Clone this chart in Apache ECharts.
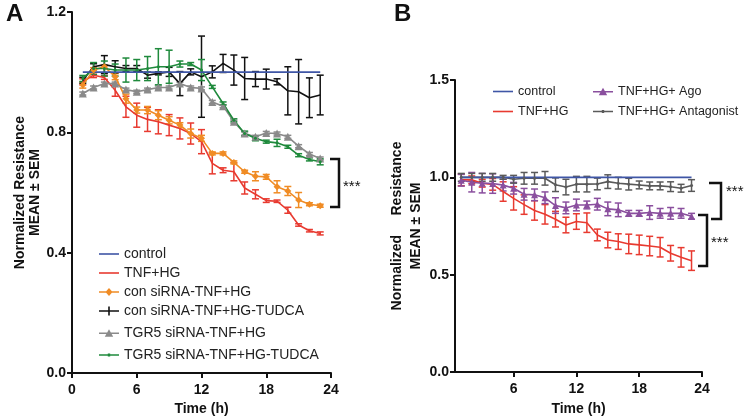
<!DOCTYPE html>
<html>
<head>
<meta charset="utf-8">
<script src="https://cdn.jsdelivr.net/npm/echarts@6/dist/echarts.min.js"></script>
<style>html,body{margin:0;padding:0;background:#fff}#c{width:750px;height:416px}</style>
</head>
<body>
<div id="c"></div>
<script>
// ---------- data ----------
var timeA = [1,2,3,4,5,6,7,8,9,10,11,12,13,14,15,16,17,18,19,20,21,22,23];
var controlA = [1,1,1,1,1,1,1,1,1,1,1,1,1,1,1,1,1,1,1,1,1,1,1];
var tnfA = [0.968,0.99,0.982,0.94,0.885,0.857,0.843,0.835,0.824,0.813,0.796,0.769,0.697,0.674,0.669,0.615,0.594,0.573,0.571,0.541,0.492,0.473,0.464];
var tnfAErr = [0.01,0.008,0.006,0.02,0.035,0.04,0.04,0.04,0.035,0.035,0.035,0.04,0.035,0.008,0.03,0.02,0.015,0.006,0.004,0.01,0.004,0.004,0.005];
var conA = [0.957,1.007,1.018,0.985,0.912,0.874,0.874,0.857,0.84,0.824,0.796,0.78,0.73,0.73,0.70,0.669,0.654,0.652,0.619,0.605,0.575,0.561,0.556];
var conAErr = [0.01,0.008,0.005,0.01,0.015,0.01,0.012,0.015,0.012,0.008,0.015,0.01,0.005,0.005,0.005,0.005,0.015,0.008,0.02,0.015,0.025,0.005,0.005];
var conTudcaA = [0.973,1.018,1.025,1.018,1.012,1.012,0.99,0.996,1.001,0.962,1.001,0.985,1.001,1.029,1.007,0.979,0.977,0.977,0.968,0.938,0.935,0.915,0.924];
var conTudcaAErr = [0.01,0.01,0.03,0.02,0.01,0.01,0.01,0.005,0.015,0.04,0.01,0.135,0.02,0.03,0.05,0.07,0.025,0.033,0.01,0.08,0.107,0.066,0.066];
var tgrA = [0.929,0.949,0.962,0.962,0.942,0.935,0.942,0.949,0.949,0.962,0.949,0.946,0.901,0.887,0.835,0.796,0.785,0.798,0.796,0.785,0.754,0.728,0.713];
var tgrAErr = [0.005,0.005,0.005,0.005,0.005,0.005,0.005,0.005,0.005,0.005,0.005,0.005,0.005,0.005,0.005,0.005,0.005,0.005,0.005,0.005,0.005,0.005,0.005];
var tgrTudcaA = [0.979,1.012,1.012,1.007,1.007,1.007,1.012,1.018,1.018,1.027,1.027,1.007,0.951,0.896,0.84,0.796,0.78,0.769,0.765,0.752,0.724,0.71,0.702];
var tgrTudcaAErr = [0.01,0.02,0.025,0.02,0.04,0.035,0.04,0.06,0.055,0.01,0.005,0.035,0.005,0.005,0.005,0.008,0.008,0.005,0.012,0.005,0.005,0.005,0.01];

var timeB = [1,2,3,4,5,6,7,8,9,10,11,12,13,14,15,16,17,18,19,20,21,22,23];
var controlB = [1,1,1,1,1,1,1,1,1,1,1,1,1,1,1,1,1,1,1,1,1,1,1];
var tnfB = [0.987,0.987,0.97,0.964,0.927,0.892,0.86,0.83,0.81,0.785,0.755,0.773,0.767,0.704,0.678,0.67,0.658,0.653,0.647,0.641,0.61,0.589,0.572];
var tnfBErr = [0.03,0.02,0.02,0.03,0.05,0.06,0.05,0.05,0.05,0.04,0.04,0.04,0.05,0.03,0.04,0.04,0.05,0.05,0.05,0.05,0.04,0.05,0.05];
var agoB = [0.985,0.975,0.97,0.968,0.96,0.944,0.913,0.91,0.895,0.855,0.843,0.858,0.858,0.862,0.838,0.833,0.815,0.815,0.819,0.815,0.815,0.815,0.8];
var agoBErr = [0.03,0.05,0.05,0.05,0.03,0.03,0.03,0.03,0.03,0.04,0.03,0.03,0.02,0.03,0.035,0.035,0.015,0.015,0.035,0.025,0.03,0.025,0.015];
var antB = [1.0,1.0,1.0,1.0,1.0,0.99,0.995,0.995,0.995,0.962,0.95,0.965,0.965,0.966,0.978,0.97,0.965,0.961,0.956,0.956,0.952,0.944,0.958];
var antBErr = [0.02,0.02,0.02,0.02,0.01,0.02,0.03,0.03,0.035,0.035,0.04,0.04,0.04,0.03,0.035,0.03,0.03,0.02,0.02,0.02,0.025,0.02,0.03];

var xTicksB = [6, 12, 18, 24];

// ---------- helpers ----------
var FONT = 'Liberation Sans, Arial, sans-serif';
function pts(t, v) { return t.map(function (x, i) { return [x, v[i]]; }); }
function errPts(t, v, e) { return t.map(function (x, i) { return [x, v[i] - e[i], v[i] + e[i]]; }); }
function lineSeries(name, gi, t, v, color, symbol, size) {
  return {
    type: 'line', name: name, xAxisIndex: gi, yAxisIndex: gi,
    data: pts(t, v), symbol: symbol || 'none', symbolSize: size || 5,
    showSymbol: !!symbol && symbol !== 'none',
    lineStyle: { color: color, width: 1.6 }, itemStyle: { color: color },
    z: 3, animation: false
  };
}
function errSeries(gi, t, v, e, color) {
  return {
    type: 'custom', name: '_err', xAxisIndex: gi, yAxisIndex: gi,
    data: errPts(t, v, e), animation: false, z: 2, silent: true,
    renderItem: function (params, api) {
      var x = api.value(0);
      var lo = api.coord([x, api.value(1)]);
      var hi = api.coord([x, api.value(2)]);
      var w = 3.5;
      var st = { stroke: color, lineWidth: 1.5 };
      return { type: 'group', children: [
        { type: 'line', shape: { x1: lo[0], y1: lo[1], x2: hi[0], y2: hi[1] }, style: st },
        { type: 'line', shape: { x1: lo[0] - w, y1: lo[1], x2: lo[0] + w, y2: lo[1] }, style: st },
        { type: 'line', shape: { x1: hi[0] - w, y1: hi[1], x2: hi[0] + w, y2: hi[1] }, style: st }
      ]};
    }
  };
}
var LINE = 'M0,4.2L20,4.2L20,5.8L0,5.8Z';
var ICON = {
  line: 'path://' + LINE,
  diamond: 'path://' + LINE + 'M10,1L13.5,5L10,9L6.5,5Z',
  plus: 'path://' + LINE + 'M9.2,0.5L10.8,0.5L10.8,9.5L9.2,9.5Z',
  triangle: 'path://' + LINE + 'M10,1L14.2,8.5L5.8,8.5Z',
  dot: 'path://' + LINE + 'M8.8,3.6L11.2,3.6L11.2,6.4L8.8,6.4Z'
};
var axisLine = { show: true, lineStyle: { color: '#111', width: 2 } };
var axisTick = { show: true, length: 5, lineStyle: { color: '#111', width: 2 } };
var tickLabel = { color: '#111', fontWeight: 'bold', fontSize: 14, fontFamily: FONT };

var C = { blue: '#3f56a6', red: '#e83a30', orange: '#f08c25', black: '#111111', gray: '#8a8a8a', green: '#1f8a3c', purple: '#8a4f9e', dgray: '#5a5a5a' };

var chart = echarts.init(document.getElementById('c'), null, { renderer: 'canvas' });
var legText14 = { fontSize: 14, color: '#222', fontFamily: FONT };
var legText13 = { fontSize: 12.5, color: '#222', fontFamily: FONT };
var option = {
  animation: false,
  backgroundColor: '#fff',
  grid: [
    { left: 72, top: 12, width: 259, height: 361, outerBoundsMode: 'none', containLabel: false },
    { left: 455, top: 80, width: 247, height: 292, outerBoundsMode: 'none', containLabel: false }
  ],
  xAxis: [
    { gridIndex: 0, type: 'value', min: 0, max: 24, interval: 6,
      axisLine: axisLine, axisTick: axisTick, splitLine: { show: false },
      axisLabel: Object.assign({ margin: 10 }, tickLabel),
      name: 'Time (h)', nameLocation: 'middle', nameGap: 25, nameTextStyle: { color: '#111', fontWeight: 'bold', fontSize: 14, fontFamily: FONT } },
    { gridIndex: 1, type: 'value', min: 0.4, max: 24,
      axisLine: axisLine,
      axisTick: Object.assign({ customValues: xTicksB }, axisTick), splitLine: { show: false },
      axisLabel: Object.assign({ margin: 10, customValues: xTicksB }, tickLabel),
      name: 'Time (h)', nameLocation: 'middle', nameGap: 30, nameTextStyle: { color: '#111', fontWeight: 'bold', fontSize: 14, fontFamily: FONT } }
  ],
  yAxis: [
    { gridIndex: 0, type: 'value', min: 0, max: 1.2, interval: 0.4,
      axisLine: axisLine, axisTick: axisTick, splitLine: { show: false },
      axisLabel: Object.assign({ margin: 6, formatter: function (v) { return v.toFixed(1); } }, tickLabel),
      name: 'Normalized Resistance\nMEAN ± SEM', nameLocation: 'middle', nameGap: 29, nameRotate: 90,
      nameTextStyle: { color: '#111', fontWeight: 'bold', fontSize: 14, fontFamily: FONT, lineHeight: 15 } },
    { gridIndex: 1, type: 'value', min: 0, max: 1.5, interval: 0.5,
      axisLine: axisLine, axisTick: axisTick, splitLine: { show: false },
      axisLabel: Object.assign({ margin: 6, formatter: function (v) { return v.toFixed(1); } }, tickLabel),
      name: 'Normalized     Resistance\nMEAN ± SEM', nameLocation: 'middle', nameGap: 27, nameRotate: 90,
      nameTextStyle: { color: '#111', fontWeight: 'bold', fontSize: 14, fontFamily: FONT, lineHeight: 19 } }
  ],
  legend: [
    { orient: 'vertical', left: 94, top: 242, itemGap: 5, itemWidth: 20, itemHeight: 10, textStyle: legText14,
      data: [
        { name: 'control', icon: ICON.line },
        { name: 'TNF+HG', icon: ICON.line },
        { name: 'con siRNA-TNF+HG', icon: ICON.diamond },
        { name: 'con siRNA-TNF+HG-TUDCA', icon: ICON.plus }
      ] },
    { orient: 'vertical', left: 94, top: 321, itemGap: 8, itemWidth: 20, itemHeight: 10, textStyle: legText14,
      data: [
        { name: 'TGR5 siRNA-TNF+HG', icon: ICON.triangle },
        { name: 'TGR5 siRNA-TNF+HG-TUDCA', icon: ICON.dot }
      ] },
    { orient: 'vertical', left: 488, top: 80, itemGap: 7, itemWidth: 20, itemHeight: 10, textStyle: legText13,
      data: [
        { name: 'control', icon: ICON.line },
        { name: 'TNF+HG', icon: ICON.line }
      ] },
    { orient: 'vertical', left: 588, top: 80, itemGap: 7, itemWidth: 20, itemHeight: 10, textStyle: legText13,
      data: [
        { name: 'TNF+HG+ Ago', icon: ICON.triangle },
        { name: 'TNF+HG+ Antagonist', icon: ICON.dot }
      ] }
  ],
  series: [
    errSeries(0, timeA, tnfA, tnfAErr, C.red),
    errSeries(0, timeA, conA, conAErr, C.orange),
    errSeries(0, timeA, conTudcaA, conTudcaAErr, C.black),
    errSeries(0, timeA, tgrA, tgrAErr, C.gray),
    errSeries(0, timeA, tgrTudcaA, tgrTudcaAErr, C.green),
    lineSeries('TNF+HG', 0, timeA, tnfA, C.red, 'none'),
    lineSeries('con siRNA-TNF+HG', 0, timeA, conA, C.orange, 'diamond', 7),
    lineSeries('con siRNA-TNF+HG-TUDCA', 0, timeA, conTudcaA, C.black, 'none'),
    lineSeries('TGR5 siRNA-TNF+HG', 0, timeA, tgrA, C.gray, 'triangle', 8),
    lineSeries('TGR5 siRNA-TNF+HG-TUDCA', 0, timeA, tgrTudcaA, C.green, 'circle', 3),
    lineSeries('control', 0, timeA, controlA, C.blue, 'none'),

    errSeries(1, timeB, tnfB, tnfBErr, C.red),
    errSeries(1, timeB, agoB, agoBErr, C.purple),
    errSeries(1, timeB, antB, antBErr, C.dgray),
    lineSeries('TNF+HG', 1, timeB, tnfB, C.red, 'none'),
    lineSeries('TNF+HG+ Ago', 1, timeB, agoB, C.purple, 'triangle', 7),
    lineSeries('TNF+HG+ Antagonist', 1, timeB, antB, C.dgray, 'circle', 3),
    lineSeries('control', 1, timeB, controlB, C.blue, 'none')
  ],
  graphic: [
    { type: 'text', left: 6, top: 2, style: { text: 'A', font: 'bold 24px ' + FONT, fill: '#111' } },
    { type: 'text', left: 394, top: 2, style: { text: 'B', font: 'bold 24px ' + FONT, fill: '#111' } },
    // bracket A
    { type: 'polyline', shape: { points: [[330, 159], [339, 159], [339, 207], [330, 207]] }, style: { stroke: '#111', lineWidth: 2.5, fill: null } },
    { type: 'text', x: 343, y: 179, style: { text: '***', font: '15px ' + FONT, fill: '#111' } },
    // bracket B upper
    { type: 'polyline', shape: { points: [[709, 183], [721, 183], [721, 219], [711, 219]] }, style: { stroke: '#111', lineWidth: 2.5, fill: null } },
    { type: 'text', x: 726, y: 184, style: { text: '***', font: '15px ' + FONT, fill: '#111' } },
    // bracket B lower
    { type: 'polyline', shape: { points: [[698, 215], [707, 215], [707, 266], [698, 266]] }, style: { stroke: '#111', lineWidth: 2.5, fill: null } },
    { type: 'text', x: 711, y: 235, style: { text: '***', font: '15px ' + FONT, fill: '#111' } }
  ]
};
chart.setOption(option);
</script>
</body>
</html>
